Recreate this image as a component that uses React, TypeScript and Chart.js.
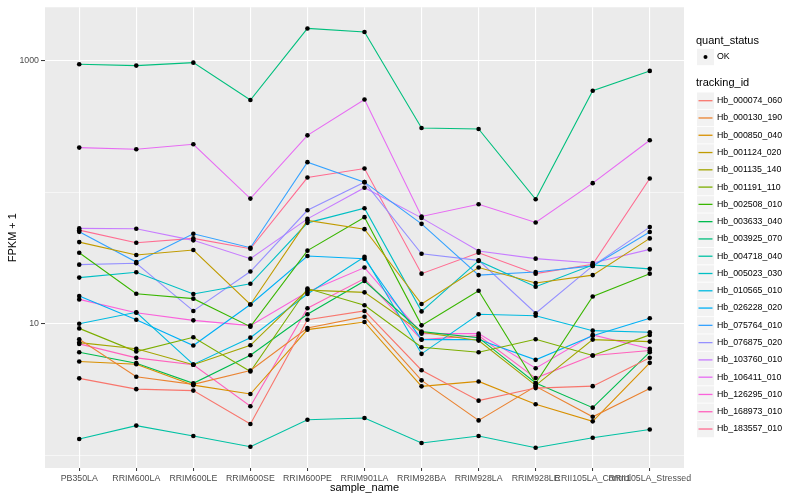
import React, { useEffect, useRef } from "react";
import { Chart, registerables } from "chart.js";

Chart.register(...registerables);

const FONT = "'Liberation Sans', Arial, Helvetica, sans-serif";

const samples = [
  "PB350LA", "RRIM600LA", "RRIM600LE", "RRIM600SE", "RRIM600PE", "RRIM901LA",
  "RRIM928BA", "RRIM928LA", "RRIM928LE", "RRII105LA_Control", "RRII105LA_Stressed",
];

const trackingIds = [
  "Hb_000074_060", "Hb_000130_190", "Hb_000850_040", "Hb_001124_020", "Hb_001135_140",
  "Hb_001191_110", "Hb_002508_010", "Hb_003633_040", "Hb_003925_070", "Hb_004718_040",
  "Hb_005023_030", "Hb_010565_010", "Hb_026228_020", "Hb_075764_010", "Hb_076875_020",
  "Hb_103760_010", "Hb_106411_010", "Hb_126295_010", "Hb_168973_010", "Hb_183557_010",
];

const trackColors = [
  "#F8766D", "#EA8331", "#D89000", "#C09B00", "#A3A500",
  "#7CAE00", "#39B600", "#00BB4E", "#00BF7D", "#00C1A3",
  "#00BFC4", "#00BAE0", "#00B0F6", "#35A2FF", "#9590FF",
  "#C77CFF", "#E76BF3", "#FA62DB", "#FF62BC", "#FF6C91",
];

// FPKM + 1 per sample (order of `samples`)
const hb000074_060 = [3.84, 3.18, 3.10, 1.73, 10.7, 12.5, 4.43, 2.60, 3.24, 3.35, 5.50];
const hb000130_190 = [7.61, 3.95, 3.46, 4.41, 9.28, 11.3, 3.71, 1.84, 3.34, 1.96, 3.22];
const hb000850_040 = [5.16, 4.92, 3.41, 2.92, 9.01, 10.3, 3.34, 3.64, 2.44, 1.81, 5.04];
const hb001124_020 = [41.7, 33.3, 36.3, 14.0, 60.9, 52.3, 14.1, 26.7, 20.4, 23.4, 44.5];
const hb001135_140 = [7.18, 6.44, 4.87, 6.85, 18.0, 17.3, 8.60, 7.44, 3.40, 7.57, 7.31];
const hb001191_110 = [9.21, 6.14, 7.88, 4.33, 18.5, 13.8, 6.62, 6.07, 7.61, 5.73, 8.22];
const hb002508_010 = [34.6, 16.9, 15.5, 9.49, 35.9, 64.5, 9.71, 17.8, 3.52, 16.1, 24.0];
const hb003633_040 = [6.07, 5.01, 3.52, 5.76, 11.8, 21.1, 8.70, 7.83, 3.54, 2.30, 6.07];
const hb003925_070 = [937, 915, 964, 501, 1754, 1646, 307, 302, 88.3, 589, 834];
const hb004718_040 = [1.33, 1.68, 1.40, 1.16, 1.86, 1.92, 1.24, 1.40, 1.14, 1.36, 1.57];
const hb005023_030 = [22.4, 24.6, 16.8, 20.1, 58.4, 75.4, 12.4, 30.0, 19.1, 27.9, 26.1];
const hb010565_010 = [10.0, 12.2, 4.90, 7.83, 16.8, 32.3, 5.90, 11.8, 11.5, 8.85, 8.60];
const hb026228_020 = [16.2, 10.7, 6.82, 14.0, 32.7, 31.2, 7.57, 7.57, 5.31, 8.11, 11.0];
const hb075764_010 = [49.9, 29.4, 48.2, 37.8, 169, 119, 57.4, 23.4, 24.7, 27.5, 49.7];
const hb076875_020 = [28.1, 28.8, 12.5, 24.9, 72.8, 119, 34.0, 30.3, 12.0, 27.5, 54.2];
const hb103760_010 = [53.0, 52.6, 43.0, 31.2, 62.6, 108, 63.7, 35.7, 31.2, 28.9, 36.7];
const hb106411_010 = [218, 212, 231, 89.3, 270, 506, 65.3, 80.9, 58.8, 117, 248];
const hb126295_010 = [15.3, 12.1, 10.6, 9.66, 17.4, 26.7, 8.40, 8.40, 4.59, 8.22, 6.44];
const hb168973_010 = [7.02, 5.50, 4.87, 2.36, 13.1, 22.0, 7.57, 8.11, 3.86, 5.73, 6.25];
const hb183557_010 = [51.4, 41.2, 44.5, 37.1, 129, 151, 24.0, 34.6, 24.0, 28.3, 127];

const seriesValues = [
  hb000074_060, hb000130_190, hb000850_040, hb001124_020, hb001135_140,
  hb001191_110, hb002508_010, hb003633_040, hb003925_070, hb004718_040,
  hb005023_030, hb010565_010, hb026228_020, hb075764_010, hb076875_020,
  hb103760_010, hb106411_010, hb126295_010, hb168973_010, hb183557_010,
];

const yTicks = [1, 10, 100, 1000];
const yLabelled = [10, 1000];
const quantStatus = ["OK"];

const panelBg = {
  id: "panelBg",
  beforeDraw(chart: any) {
    const { ctx, chartArea: a } = chart;
    ctx.save();
    ctx.fillStyle = "#EBEBEB";
    ctx.fillRect(a.left, a.top, a.right - a.left, a.bottom - a.top);
    ctx.restore();
  },
};

const ggLegend = {
  id: "ggLegend",
  afterDraw(chart: any) {
    const ctx = chart.ctx;
    const x0 = 697;
    const keyW = 17;
    const rowH = 17.28;
    ctx.save();
    ctx.textBaseline = "middle";
    ctx.textAlign = "left";
    // quant_status
    ctx.fillStyle = "#000000";
    ctx.font = `11px ${FONT}`;
    ctx.fillText("quant_status", x0 - 1, 40.5);
    quantStatus.forEach((q, i) => {
      const cy = 57 + i * rowH;
      ctx.fillStyle = "#F2F2F2";
      ctx.fillRect(x0, cy - 8.2, keyW, 16.4);
      ctx.fillStyle = "#000000";
      ctx.beginPath();
      ctx.arc(x0 + keyW / 2, cy, 2, 0, Math.PI * 2);
      ctx.fill();
      ctx.font = `8.8px ${FONT}`;
      ctx.fillText(q, x0 + keyW + 3, cy);
    });
    // tracking_id
    ctx.fillStyle = "#000000";
    ctx.font = `11px ${FONT}`;
    ctx.fillText("tracking_id", x0 - 1, 83.3);
    trackingIds.forEach((id, i) => {
      const cy = 100.7 + i * rowH;
      ctx.fillStyle = "#F2F2F2";
      ctx.fillRect(x0, cy - 8.2, keyW, 16.4);
      ctx.strokeStyle = trackColors[i];
      ctx.lineWidth = 1.3;
      ctx.beginPath();
      ctx.moveTo(x0 + 1.5, cy);
      ctx.lineTo(x0 + keyW - 1.5, cy);
      ctx.stroke();
      ctx.fillStyle = "#000000";
      ctx.font = `8.8px ${FONT}`;
      ctx.fillText(id, x0 + keyW + 3, cy);
    });
    ctx.restore();
  },
};

export default function App() {
  const ref = useRef<HTMLCanvasElement | null>(null);

  useEffect(() => {
    if (!ref.current) return;
    const lineSets = seriesValues.map((vals, s) => ({
      type: "line" as const,
      label: trackingIds[s],
      data: vals.map((v, i) => ({ x: i, y: v })),
      borderColor: trackColors[s],
      backgroundColor: trackColors[s],
      borderWidth: 1.1,
      pointRadius: 0,
      fill: false,
      tension: 0,
      order: 1,
    }));
    const pointSet = {
      type: "scatter" as const,
      label: "OK",
      data: seriesValues.flatMap((vals) => vals.map((v, i) => ({ x: i, y: v }))),
      backgroundColor: "#000000",
      borderColor: "#000000",
      borderWidth: 0,
      pointRadius: 2.3,
      showLine: false,
      order: 0,
    };

    const chart = new Chart(ref.current, {
      type: "line",
      data: { datasets: [...lineSets, pointSet] as any },
      plugins: [panelBg, ggLegend],
      options: {
        responsive: false,
        animation: false,
        layout: { padding: { left: 0, right: 116, top: 5, bottom: 0 } },
        plugins: { legend: { display: false }, tooltip: { enabled: false } },
        scales: {
          x: {
            type: "linear",
            min: -0.6,
            max: 10.6,
            afterBuildTicks: (scale: any) => {
              scale.ticks = samples.map((_, i) => ({ value: i }));
            },
            afterFit: (scale: any) => {
              scale.height = 32;
            },
            border: { display: false },
            grid: {
              color: "#FFFFFF",
              lineWidth: 1.1,
              drawTicks: true,
              tickLength: 3,
              tickColor: "#333333",
              tickWidth: 1,
            },
            ticks: {
              autoSkip: false,
              maxRotation: 0,
              minRotation: 0,
              padding: 2,
              color: "#4D4D4D",
              font: { family: FONT, size: 8.8 },
              callback: (v: any) => samples[Math.round(Number(v))] ?? "",
            },
            title: {
              display: true,
              text: "sample_name",
              color: "#000000",
              font: { family: FONT, size: 11 },
              padding: { top: 0, bottom: 5 },
            },
          },
          y: {
            type: "logarithmic",
            min: 0.8,
            max: 2540,
            afterBuildTicks: (scale: any) => {
              scale.ticks = yTicks.map((v) => ({ value: v }));
            },
            afterFit: (scale: any) => {
              scale.width = 45;
            },
            border: { display: false },
            grid: {
              color: "#FFFFFF",
              lineWidth: (c: any) => (yLabelled.includes(c.tick?.value) ? 1.1 : 0.55),
              drawTicks: true,
              tickLength: 4,
              tickWidth: 1,
              tickColor: (c: any) =>
                yLabelled.includes(c.tick?.value) ? "#333333" : "rgba(0,0,0,0)",
            },
            ticks: {
              padding: 2,
              color: "#4D4D4D",
              font: { family: FONT, size: 8.8 },
              callback: (v: any) => (yLabelled.includes(Number(v)) ? String(v) : ""),
            },
            title: {
              display: true,
              text: "FPKM + 1",
              color: "#000000",
              font: { family: FONT, size: 11 },
              padding: { top: 6, bottom: 0 },
            },
          },
        },
      } as any,
    });
    return () => chart.destroy();
  }, []);

  return (
    <div style={{ position: "absolute", left: 0, top: 0, width: 800, height: 500, background: "#FFFFFF" }}>
      <canvas ref={ref} width={800} height={500} style={{ width: 800, height: 500, display: "block" }} />
    </div>
  );
}
